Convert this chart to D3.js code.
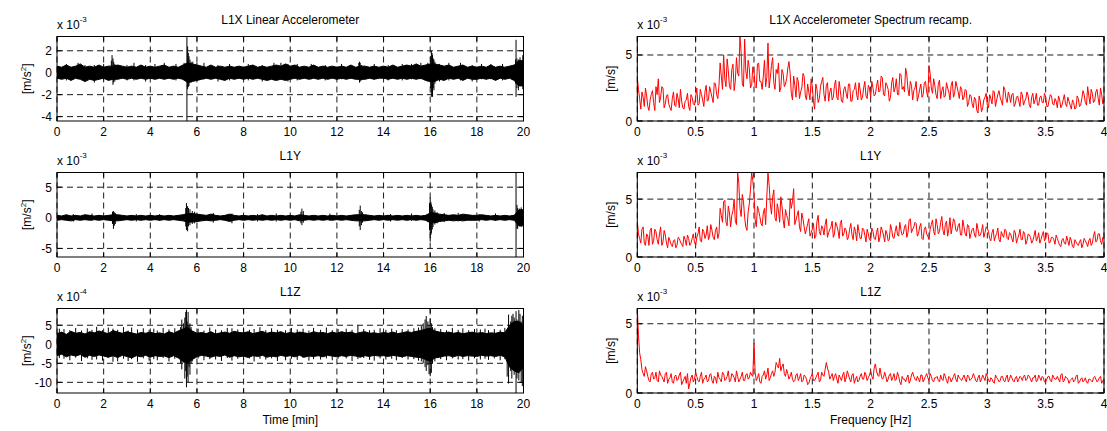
<!DOCTYPE html>
<html>
<head>
<meta charset="utf-8">
<script src="https://d3js.org/d3.v7.min.js"></script>
<style>
  body { margin: 0; background: #fff; }
  svg { font-family: "Liberation Sans", Arial, sans-serif; font-size: 12px; }
</style>
</head>
<body>
<script>
// ---- time series, min/max envelope every 0.2 min (t = 0 .. 20) ----
var timeStep = 0.2;
// L1X, units 1e-3 m/s^2
var xUpper = [0.6,0.5,0.7,0.5,0.6,0.8,0.5,0.6,0.5,0.7, 0.5,0.6,0.6,0.7,0.6,0.5,0.6,0.5,0.7,0.5,
  0.6,0.5,0.6,0.7,0.5,0.6,0.5,0.7,0.9,0.8, 0.7,0.6,0.5,0.7,0.5,0.6,0.5,0.6,0.5,0.6,
  0.5,0.6,0.7,0.5,0.6,0.5,0.6,0.7,0.6,0.8, 0.6,0.7,0.5,0.6,0.5,0.7,0.5,0.6,0.5,0.6,
  0.5,0.6,0.5,0.7,0.5,0.6,0.6,0.5,0.6,0.5, 0.6,0.5,0.7,0.5,0.6,0.7,0.6,0.8,0.6,0.7,
  0.8,0.8,0.7,0.6,0.7,0.5,0.6,0.7,0.5,0.6, 0.5,0.6,0.5,0.7,0.5,0.6,0.5,0.6,0.7,1.1, 1.1];
var xLower = [-0.5,-0.6,-0.5,-0.7,-0.5,-0.6,-0.8,-0.6,-0.7,-0.6, -0.5,-0.7,-0.6,-0.6,-0.5,-0.6,-0.5,-0.6,-0.5,-0.6,
  -0.5,-0.6,-0.5,-0.6,-0.5,-0.6,-0.5,-0.6,-0.9,-0.8, -0.7,-0.6,-0.5,-0.6,-0.5,-0.6,-0.7,-0.5,-0.6,-0.5,
  -0.6,-0.5,-0.6,-0.5,-0.6,-0.7,-0.6,-0.7,-0.6,-0.7, -0.6,-0.5,-0.6,-0.5,-0.6,-0.5,-0.6,-0.5,-0.6,-0.5,
  -0.6,-0.5,-0.6,-0.5,-0.6,-0.6,-0.6,-0.5,-0.6,-0.5, -0.5,-0.6,-0.5,-0.6,-0.5,-0.6,-0.5,-0.6,-0.5,-0.7,
  -0.8,-0.8,-0.6,-0.7,-0.5,-0.6,-0.5,-0.7,-0.5,-0.6, -0.6,-0.5,-0.6,-0.5,-0.7,-0.5,-0.6,-0.5,-0.7,-1.2, -1.2];
// [t, min, max]
var xSpikes = [[0.4,-0.7,0.8],[0.9,-0.6,0.9],[1.2,-0.8,0.7],[1.6,-0.9,0.7],[2.0,-0.7,0.8],
  [2.33,-0.5,1.1],[2.36,-0.4,1.6],[2.4,-1.1,1.3],[2.43,-0.9,1.0],[2.48,-0.8,0.8],[3.0,-0.7,0.7],[3.3,-0.7,0.9],
  [3.8,-0.8,0.7],[4.2,-0.6,0.8],[4.6,-0.6,0.9],[5.1,-0.7,0.8],[5.45,-0.7,0.9],
  [5.57,-4.4,3.3],[5.6,-1.5,2.4],[5.63,-1.3,1.8],[5.66,-1.2,1.5],[5.7,-0.9,1.2],[5.75,-0.9,1.0],[5.82,-0.7,1.0],
  [6.0,-0.7,0.9],[6.3,-0.6,0.9],[6.9,-0.8,0.7],[7.4,-0.7,0.8],[8.2,-0.7,0.8],[8.8,-0.8,0.7],[9.3,-0.7,0.9],
  [9.6,-0.6,0.9],[9.9,-0.8,0.8],[10.3,-0.7,0.8],[10.9,-0.6,0.8],[11.5,-0.7,0.7],[12.2,-0.6,0.8],
  [12.94,-0.6,0.9],[12.97,-0.9,1.0],[13.0,-0.8,0.9],[13.05,-0.7,0.7],[13.6,-0.6,0.8],[14.2,-0.7,0.7],
  [14.8,-0.7,0.8],[15.2,-0.6,0.8],[15.6,-0.6,0.9],[15.9,-0.8,0.9],
  [16.02,-1.4,1.5],[16.05,-2.2,2.0],[16.08,-1.8,1.8],[16.1,-2.2,1.6],[16.13,-1.4,1.3],[16.16,-1.6,1.2],[16.2,-1.0,1.0],
  [16.4,-0.8,0.8],[16.8,-0.7,0.9],[17.3,-0.7,0.9],[17.8,-0.8,0.7],[18.2,-0.6,0.8],[18.6,-0.6,0.8],[19.1,-0.7,0.8],
  [19.66,-1.0,1.2],[19.68,-2.2,3.0],[19.72,-1.4,1.3],[19.78,-1.6,1.2],[19.85,-1.1,1.4],[19.9,-1.2,1.1],[19.97,-1.5,1.6]];

// L1Y, units 1e-3 m/s^2
var yUpper = [0.4,0.3,0.5,0.3,0.4,0.3,0.5,0.4,0.3,0.4, 0.3,0.4,0.5,0.5,0.4,0.3,0.4,0.3,0.4,0.3,
  0.4,0.3,0.4,0.3,0.4,0.3,0.4,0.5,0.7,0.7, 0.6,0.5,0.4,0.6,0.4,0.3,0.4,0.6,0.4,0.3,
  0.4,0.3,0.4,0.3,0.5,0.3,0.4,0.3,0.4,0.3, 0.4,0.3,0.5,0.4,0.3,0.4,0.3,0.4,0.3,0.4,
  0.3,0.4,0.3,0.4,0.5,0.5,0.5,0.4,0.3,0.4, 0.3,0.4,0.3,0.4,0.3,0.4,0.3,0.4,0.3,0.4,
  0.8,0.8,0.6,0.5,0.4,0.5,0.4,0.6,0.5,0.4, 0.4,0.5,0.4,0.3,0.4,0.3,0.4,0.3,0.4,1.3, 1.3];
var yLower = [-0.4,-0.3,-0.4,-0.5,-0.3,-0.4,-0.3,-0.4,-0.3,-0.4, -0.3,-0.4,-0.5,-0.5,-0.4,-0.3,-0.4,-0.3,-0.4,-0.3,
  -0.4,-0.3,-0.4,-0.3,-0.4,-0.3,-0.4,-0.5,-0.7,-0.7, -0.6,-0.5,-0.4,-0.5,-0.4,-0.3,-0.4,-0.6,-0.4,-0.3,
  -0.4,-0.3,-0.4,-0.3,-0.4,-0.3,-0.4,-0.3,-0.4,-0.3, -0.4,-0.3,-0.5,-0.4,-0.3,-0.4,-0.3,-0.4,-0.3,-0.4,
  -0.3,-0.4,-0.3,-0.4,-0.5,-0.5,-0.5,-0.4,-0.3,-0.4, -0.3,-0.4,-0.3,-0.4,-0.3,-0.4,-0.3,-0.4,-0.3,-0.4,
  -0.8,-0.8,-0.6,-0.5,-0.4,-0.5,-0.4,-0.5,-0.4,-0.4, -0.4,-0.3,-0.4,-0.3,-0.4,-0.3,-0.4,-0.3,-0.4,-1.3, -1.3];
var ySpikes = [[0.7,-0.6,0.6],[1.5,-0.5,0.7],[2.38,-1.0,1.0],[2.42,-1.8,1.1],[2.46,-1.3,0.9],[2.5,-1.0,0.8],
  [3.4,-0.6,0.6],[4.4,-0.5,0.6],[5.52,-1.4,1.6],[5.55,-2.0,2.4],[5.6,-2.2,1.9],[5.64,-1.4,1.6],[5.7,-1.2,1.4],
  [5.8,-1.0,1.1],[5.9,-0.9,1.0],[6.7,-0.8,0.8],[7.5,-0.9,0.7],[8.6,-0.6,0.6],[9.4,-0.6,0.7],
  [10.46,-0.9,1.0],[10.5,-1.2,1.5],[10.56,-0.8,1.1],[11.7,-0.5,0.7],[12.96,-1.4,1.3],[13.0,-2.0,2.0],
  [13.05,-1.2,1.1],[13.1,-0.8,0.9],[14.3,-0.6,0.6],[15.2,-0.5,0.7],
  [15.97,-2.0,2.4],[16.0,-3.9,3.3],[16.03,-2.8,2.6],[16.05,-2.5,2.2],[16.09,-1.9,1.8],[16.12,-1.5,1.4],
  [16.2,-1.1,1.2],[16.3,-0.9,0.9],[16.6,-0.7,0.8],[17.2,-0.6,0.8],[18.1,-0.6,0.6],[18.8,-0.5,0.7],
  [19.68,-6.4,7.4],[19.72,-1.8,2.1],[19.75,-1.8,1.6],[19.82,-1.4,1.5],[19.9,-1.5,1.7],[19.98,-1.2,1.4]];

// L1Z, units 1e-4 m/s^2
var zUpper = [2.8,3.2,2.6,3.4,2.9,3.1,2.7,3.3,3.0,3.5, 3.1,2.8,3.6,3.2,2.9,3.3,3.0,2.7,3.1,2.9,
  3.2,2.8,3.0,2.7,3.3,2.9,3.5,4.0,4.5,3.5, 2.9,3.1,2.8,3.3,2.7,3.0,3.2,2.9,3.4,3.1,
  3.0,3.3,2.8,3.1,3.4,2.9,3.2,3.0,3.3,2.8, 3.1,2.9,3.2,3.0,2.8,3.3,3.0,3.1,2.8,3.2,
  2.9,3.3,3.0,3.2,2.8,3.1,3.3,2.9,3.0,2.8, 3.1,2.9,3.2,2.8,3.0,3.3,3.1,3.4,3.6,4.0,
  4.2,3.5,3.2,3.0,3.2,2.9,3.1,2.8,3.0,3.2, 2.9,3.1,2.8,3.0,2.9,3.2,3.0,5.0,6.0,6.0, 5.0];
var zLower = [-3.0,-2.6,-3.3,-2.8,-3.1,-2.7,-3.4,-2.9,-3.2,-2.8, -3.1,-3.4,-3.0,-3.5,-2.9,-3.2,-3.6,-3.0,-3.3,-2.9,
  -3.4,-3.0,-3.2,-3.1,-3.5,-3.0,-3.6,-4.5,-5.0,-4.0, -3.3,-2.9,-3.1,-3.4,-3.0,-3.2,-2.8,-3.4,-3.0,-3.3,
  -3.1,-3.5,-3.0,-3.2,-2.9,-3.4,-3.1,-3.3,-2.9,-3.2, -3.0,-3.3,-2.9,-3.4,-3.1,-3.2,-3.0,-3.3,-2.9,-3.1,
  -3.3,-3.0,-3.2,-2.9,-3.1,-3.4,-3.0,-3.2,-2.9,-3.1, -3.0,-3.2,-2.9,-3.1,-3.3,-3.0,-3.2,-3.4,-3.5,-4.0,
  -4.5,-3.6,-3.4,-3.1,-3.0,-3.3,-2.9,-3.2,-3.0,-3.1, -3.2,-2.9,-3.1,-3.0,-3.2,-2.9,-3.3,-6.0,-7.0,-7.5, -6.0];
var zSpikes = [[0.1,-3.6,4.1],[0.3,-3.8,4.0],[0.55,-4.2,3.7],[0.8,-3.5,4.3],[1.05,-4.4,3.6],[1.3,-3.7,4.2],
  [1.5,-4.1,3.8],[1.7,-4.0,4.6],[1.95,-4.3,3.7],[2.2,-3.6,4.4],[2.4,-4.6,4.1],[2.6,-4.5,3.8],[2.85,-3.8,4.5],
  [3.05,-4.4,3.6],[3.2,-3.9,4.4],[3.45,-4.6,3.9],[3.7,-3.7,4.2],[3.95,-4.3,3.8],[4.15,-3.9,4.1],[4.3,-4.2,3.6],
  [4.55,-3.6,4.3],[4.8,-4.5,3.9],[5.05,-3.8,4.2],[5.3,-5.0,4.5],[5.35,-6.6,6.5],[5.42,-4.8,5.5],[5.48,-9.0,7.0],
  [5.52,-7.0,8.5],[5.55,-11.3,9.1],[5.58,-8.5,6.0],[5.62,-10.0,8.5],[5.66,-6.0,5.0],[5.7,-8.0,5.5],
  [5.75,-5.0,4.5],[5.8,-4.5,3.5],[6.05,-3.7,4.1],[6.3,-4.2,3.6],[6.55,-3.9,4.4],[6.8,-4.0,3.9],[7.05,-4.4,3.7],
  [7.3,-3.6,4.3],[7.5,-4.3,4.2],[7.75,-3.8,3.9],[8.0,-4.1,4.4],[8.25,-3.7,3.8],[8.45,-4.5,4.0],[8.7,-3.8,4.5],
  [8.95,-4.0,3.7],[9.2,-3.7,4.2],[9.45,-4.4,3.8],[9.8,-4.2,3.7],[10.05,-3.8,4.3],[10.3,-4.1,3.9],[10.55,-3.6,4.1],
  [10.8,-4.3,3.6],[11.0,-3.9,4.3],[11.3,-4.0,3.8],[11.55,-3.7,4.4],[11.8,-4.2,3.7],[12.05,-3.8,4.0],[12.4,-3.7,4.1],
  [12.65,-4.4,3.8],[12.9,-3.9,5.0],[13.15,-3.6,4.0],[13.4,-4.1,3.7],[13.6,-4.3,3.8],[13.85,-3.7,4.2],[14.1,-4.0,3.8],
  [14.35,-3.8,4.1],[14.55,-4.2,3.7],[14.8,-3.6,4.0],[15.05,-4.0,3.9],[15.3,-3.9,4.2],[15.5,-4.3,4.4],
  [15.62,-4.5,4.8],[15.7,-5.0,5.5],[15.78,-6.0,6.5],[15.83,-7.0,7.4],[15.9,-5.5,6.0],[15.95,-7.8,5.0],
  [16.0,-8.4,6.8],[16.05,-7.5,5.5],[16.1,-5.0,4.5],[16.2,-4.5,4.2],[16.45,-3.9,4.0],[16.7,-4.2,3.7],
  [16.95,-3.7,4.3],[17.2,-4.0,3.8],[17.4,-3.9,4.2],[17.65,-4.3,3.7],[17.9,-3.7,4.0],[18.15,-4.0,3.9],
  [18.35,-3.8,4.1],[18.5,-4.1,3.7],[18.75,-3.7,4.0],[19.0,-4.2,3.8],[19.2,-3.9,4.3],
  [19.3,-8.5,4.0],[19.36,-10.3,7.8],[19.45,-7.0,6.0],[19.5,-9.0,7.5],[19.55,-6.5,8.0],[19.6,-8.0,7.0],
  [19.68,-12.8,8.7],[19.72,-9.0,6.5],[19.8,-9.5,9.0],[19.85,-7.0,8.0],[19.9,-10.0,6.0],[19.95,-11.0,7.5]];

// ---- spectra, units 1e-3 m/s ----
// "a" arrays: f = 0, 0.02, ... 4.00 ; "b" arrays: f = 0.01, 0.03, ... 3.99
var freqStep = 0.02;
var specXa = [3.3,1.7,2.2,1.1,1.9,0.8,2.0,1.4,2.6,3.2, 1.8,2.5,1.3,2.0,1.0,1.7,1.2,2.1,1.0,1.5,
  0.9,1.6,1.1,2.0,1.3,1.8,1.2,2.4,1.6,2.2, 1.5,2.6,1.8,2.9,2.0,2.7,3.4,5.0,2.6,3.8,
  2.4,4.3,3.0,3.6,6.4,2.8,6.2,3.2,4.0,2.7, 3.8,2.5,4.4,3.0,3.4,2.6,5.9,3.3,4.8,2.4,
  3.6,2.2,3.9,2.6,3.2,4.5,2.1,3.4,1.8,3.0, 2.2,3.6,1.9,2.8,1.6,2.6,0.9,2.4,1.7,3.0,
  2.0,2.7,1.5,2.5,1.8,3.1,1.6,2.3,1.4,2.6, 1.7,2.8,1.5,2.4,2.0,2.9,1.6,2.5,1.9,2.7,
  1.8,2.5,2.0,3.1,2.3,3.3,1.9,2.7,1.5,2.9, 2.2,3.2,2.0,3.5,2.6,4.0,2.4,3.0,1.6,2.5,
  1.5,2.4,1.8,2.9,2.2,4.2,2.5,3.2,2.0,2.8, 1.7,2.6,1.9,2.5,1.6,3.0,2.1,2.6,1.7,2.4,
  1.8,2.3,1.4,1.9,1.0,1.6,0.6,1.5,1.0,1.8, 1.2,2.0,1.3,2.2,1.6,2.3,1.5,2.6,1.7,2.2,
  1.4,2.1,1.3,1.9,1.1,2.0,1.5,2.2,1.2,1.8, 1.3,2.1,1.2,1.9,1.4,1.8,1.1,2.0,1.3,1.7,
  1.0,1.6,1.2,2.0,1.1,1.5,0.9,1.4,1.0,1.7, 1.2,2.3,1.4,2.6,1.3,2.1,1.5,2.4,1.2,2.0, 1.6];
var specXb = [2.4,0.9,1.8,2.5,1.1,1.6,2.3,0.8,2.0,1.4, 2.6,1.0,1.9,1.3,0.8,2.2,1.1,1.7,2.4,1.0, 1.5,2.1,0.8,1.8,1.2,
  2.5,1.3,2.0,1.1,2.7, 1.6,2.2,1.4,2.8,1.7,
  4.4,2.4,3.2,4.7,2.6, 3.9,2.3,4.8,3.4,5.2, 2.6,3.8,4.6,2.5,4.1,
  2.6,4.3,3.0,2.4,4.6, 3.3,2.5,4.2,2.9,3.9, 4.4,2.5,3.6,2.8,4.0,
  3.6,1.6,2.7,3.3,1.7, 2.5,3.4,1.6,2.2,3.2, 1.5,2.8,1.4,2.6,3.3,
  1.5,2.9,2.2,1.6,2.7, 1.8,3.0,1.5,2.4,2.1, 2.8,1.5,2.3,2.9,1.6, 2.4,1.8,3.0,1.7,2.5,
  3.0,1.9,2.6,2.2,3.4, 2.0,2.9,2.4,1.8,3.3, 2.5,2.0,3.6,2.4,2.2, 3.5,1.9,2.7,2.3,3.0,
  1.9,2.8,2.0,3.0,1.8, 3.6,2.1,2.7,1.7,3.1, 2.3,1.8,2.9,2.2,2.7, 1.8,3.0,2.2,2.6,1.6,
  2.4,1.1,2.0,1.3,1.8, 0.8,1.9,0.7,1.6,2.1, 1.0,1.7,2.3,1.1,2.0, 1.8,1.2,2.4,1.4,1.9,
  2.0,1.1,1.8,1.5,2.2, 1.2,1.7,1.9,1.0,2.1, 1.6,1.2,1.8,1.4,2.1, 1.1,1.6,1.9,1.2,1.5,
  1.9,1.0,1.6,1.3,1.8, 1.2,1.6,0.9,1.9,1.1, 1.7,2.0,1.2,1.9,2.4, 1.4,2.2,1.7,2.5,1.3];
var specYa = [3.1,1.6,2.4,1.2,2.0,1.0,2.5,1.4,2.2,1.1, 2.6,1.3,1.9,0.8,1.4,0.9,1.5,1.0,1.6,1.1,
  1.8,1.0,1.6,1.2,2.0,1.0,2.0,1.4,2.4,1.6, 2.7,1.8,2.3,1.5,2.6,2.0,3.6,4.8,3.0,4.4,
  2.6,4.0,3.1,7.3,4.2,5.4,3.4,2.3,4.6,7.3, 5.6,2.6,4.0,2.9,3.8,2.8,7.3,4.6,5.2,3.4,
  4.6,3.0,4.4,2.5,3.6,2.7,4.2,5.9,3.2,4.0, 2.2,3.3,2.0,2.9,1.8,2.4,1.6,3.1,2.2,2.7,
  1.9,3.3,2.1,2.6,1.7,3.0,2.3,2.9,1.8,2.5, 1.5,2.4,1.9,2.6,1.4,2.2,1.6,2.4,1.3,2.0,
  1.4,2.2,1.5,2.5,1.7,2.3,1.3,2.0,1.5,2.4, 1.6,2.7,1.8,2.3,2.0,2.8,2.1,3.3,2.4,3.0,
  1.8,2.6,1.6,2.4,2.0,1.5,2.8,2.2,3.3,2.0, 3.0,2.3,2.8,1.8,3.4,2.6,3.1,2.2,2.9,1.9,
  2.6,1.8,2.7,2.0,2.5,1.7,2.4,1.9,2.8,2.1, 2.5,1.6,2.1,1.4,2.0,1.5,2.2,1.7,2.3,1.5,
  2.0,1.3,2.1,1.6,2.4,1.5,2.0,1.4,1.9,1.2, 1.8,1.4,2.1,1.5,2.2,1.6,2.0,1.3,1.7,1.1,
  1.6,1.0,1.5,1.2,1.8,1.0,1.4,0.8,1.3,1.0, 1.5,1.1,1.4,0.9,1.6,1.2,2.2,1.4,2.0,1.1, 1.6];
var specYb = [2.0,1.2,2.6,1.0,1.8, 2.3,1.1,2.4,1.5,2.0, 1.0,2.3,1.2,1.7,1.1, 1.4,0.8,1.7,1.3,0.9, 1.5,1.9,1.0,1.6,1.3,
  1.7,2.6,1.3,2.2,1.9, 1.5,2.8,1.7,2.3,1.6,
  4.2,3.0,4.9,2.7,3.8, 3.6,5.0,2.8,6.4,3.5, 4.8,2.6,3.9,5.8,6.6,
  3.2,4.4,3.5,2.7,4.2, 5.2,6.2,3.7,5.8,3.1, 4.0,5.2,3.2,4.1,3.3,
  5.0,4.8,2.8,3.6,2.6, 3.8,2.6,2.4,3.3,2.1, 2.9,1.8,3.6,1.9,2.5,
  2.8,1.7,2.4,3.1,2.0, 2.7,1.6,3.2,2.0,2.3, 1.7,2.9,1.5,2.2,2.8, 1.6,2.5,1.9,2.4,1.5,
  2.5,1.6,2.1,1.3,2.6, 1.9,2.3,1.4,2.8,1.7, 2.2,1.9,3.0,1.9,2.6, 1.7,3.2,2.1,2.6,2.9,
  2.0,2.9,1.5,2.6,1.8, 2.4,3.2,1.9,2.8,2.2, 3.5,1.9,3.1,2.4,2.0, 3.3,2.3,2.7,1.9,3.2,
  2.0,2.8,1.6,2.4,1.9, 2.9,1.8,2.2,1.7,2.6, 2.2,1.4,2.4,1.8,2.5, 1.3,1.9,2.4,1.6,2.1,
  1.6,2.3,1.2,1.9,1.5, 2.2,1.1,2.0,1.7,1.4, 2.3,1.6,1.2,1.9,1.4, 2.1,1.2,1.7,1.5,1.9,
  1.3,0.9,1.6,1.1,1.4, 1.7,0.9,1.5,1.1,1.3, 0.8,1.6,1.2,1.4,1.0, 1.8,1.3,2.0,1.4,1.7];
var specZa = [6.1,2.9,1.7,1.2,1.6,0.9,1.4,1.0,1.5,0.8, 1.3,1.0,1.4,0.7,1.1,0.8,1.2,0.9,1.3,0.6,
  1.0,0.7,0.3,1.1,0.8,1.5,0.9,1.2,0.7,1.1, 0.8,1.3,0.9,1.2,0.7,1.1,0.8,1.4,1.0,1.6,
  0.9,1.3,0.8,1.2,1.0,1.5,0.9,1.4,1.1,1.3, 3.6,0.9,1.4,0.7,1.3,1.0,1.8,1.1,1.6,1.5,
  2.0,2.5,1.9,1.4,1.7,1.0,1.5,0.8,1.3,0.9, 1.4,0.9,1.2,0.6,1.0,1.4,0.9,1.3,0.8,1.5,
  1.2,2.2,1.5,1.2,0.9,1.4,0.7,1.1,1.3,0.8, 1.6,1.0,1.3,0.7,1.2,0.9,1.4,1.0,1.3,1.1,
  1.6,1.0,2.1,1.3,1.8,1.0,1.5,0.8,1.3,0.9, 1.4,1.0,1.2,0.6,1.0,0.8,1.3,0.9,1.5,1.0,
  1.2,0.8,1.3,1.0,1.4,0.9,1.2,0.8,1.1,0.9, 1.3,0.9,1.2,0.7,1.1,1.0,1.4,0.8,1.1,0.9,
  1.3,0.8,1.2,1.0,1.4,0.9,1.1,0.8,1.3,0.9, 1.2,0.8,1.0,0.7,1.1,0.8,1.2,0.9,1.1,0.8,
  1.3,0.9,1.1,0.8,1.2,0.9,1.3,1.0,1.2,0.8, 1.1,0.8,1.3,0.9,1.1,0.8,1.2,0.9,1.3,1.0,
  1.2,0.8,1.4,0.9,1.1,0.7,1.0,0.8,1.2,0.7, 1.0,0.8,1.1,0.7,1.0,0.8,1.2,0.8,1.1,0.7, 1.0];
var specZb = [4.2,2.4,1.4,1.9,1.2, 0.8,1.5,1.1,0.9,1.6, 1.2,0.8,1.5,1.0,1.4, 0.7,1.3,1.0,1.5,0.8, 1.2,1.4,0.7,1.3,1.0,
  1.2,0.8,1.5,1.0,1.3, 0.9,1.4,0.7,1.1,1.5,
  1.0,1.5,0.9,1.2,0.8, 1.4,1.1,1.6,0.8,1.2, 0.9,1.3,1.0,1.5,1.2,
  1.5,1.1,0.8,1.2,1.6, 1.3,0.9,1.4,1.2,2.2, 1.8,1.6,2.1,1.2,1.4,
  1.2,1.0,0.9,1.4,1.1, 0.8,1.3,1.0,0.7,1.2, 0.9,1.1,1.5,0.9,1.3,
  1.7,1.8,1.0,1.4,1.2, 1.0,1.3,0.9,1.5,1.1, 1.3,0.8,1.4,1.0,0.8, 1.2,1.0,1.5,0.9,1.3,
  1.2,1.8,1.6,1.2,1.3, 1.1,1.2,1.0,1.4,1.1, 0.9,1.5,0.8,1.2,1.0, 1.1,0.7,1.3,1.2,0.9,
  1.0,1.3,0.8,1.2,1.1, 1.4,0.9,1.1,1.2,0.8, 1.0,1.4,0.9,1.2,0.8, 1.2,1.0,1.3,1.0,1.1,
  1.0,1.3,0.9,1.1,1.2, 0.8,1.3,1.0,1.1,1.4, 0.9,1.1,0.8,1.3,1.0, 0.9,1.2,0.8,1.3,1.0,
  1.1,0.8,1.2,1.0,1.1, 1.2,0.9,1.3,1.0,1.1, 1.3,0.9,1.1,1.2,0.8, 1.0,1.2,0.8,1.1,1.0,
  1.0,1.3,0.8,1.2,1.0, 0.9,1.1,0.9,1.3,0.8, 1.1,0.9,0.8,1.0,0.9, 1.1,1.0,0.9,1.2,0.9];

// ---- axes text ----
var rowTitles = [["L1X Linear Accelerometer", "L1X Accelerometer Spectrum recamp."], ["L1Y", "L1Y"], ["L1Z", "L1Z"]];
var timeTicks = [0,2,4,6,8,10,12,14,16,18,20];
var freqTicks = [0,0.5,1,1.5,2,2.5,3,3.5,4];

var W = 1107, Hh = 431;
var svg = d3.select("body").append("svg").attr("width", W).attr("height", Hh);

var tops = [36.5, 172.5, 308.5], ph = 84.5;
var cols = [[57, 523.5], [637.3, 1104]];
var tickLen = 4.7;

// merge the two half-step sample sets of a spectrum in frequency order
function spectrum(a, b) {
  var out = [];
  a.forEach(function (v, i) {
    out.push([i * freqStep, v]);
    if (i < b.length) out.push([(i + 0.5) * freqStep, b[i]]);
  });
  return out;
}

var panels = [
  {row: 0, col: 0, kind: "time", up: xUpper, lo: xLower, spikes: xSpikes, dom: [-4.4, 3.3], yt: [-4,-2,0,2], exp: "-3"},
  {row: 1, col: 0, kind: "time", up: yUpper, lo: yLower, spikes: ySpikes, dom: [-6.4, 7.4], yt: [-5,0,5], exp: "-3"},
  {row: 2, col: 0, kind: "time", up: zUpper, lo: zLower, spikes: zSpikes, dom: [-12.8, 9.4], yt: [-10,-5,0,5], exp: "-4"},
  {row: 0, col: 1, kind: "spec", vals: spectrum(specXa, specXb), dom: [0, 6.4], yt: [0,5], exp: "-3"},
  {row: 1, col: 1, kind: "spec", vals: spectrum(specYa, specYb), dom: [0, 7.3], yt: [0,5], exp: "-3"},
  {row: 2, col: 1, kind: "spec", vals: spectrum(specZa, specZb), dom: [0, 6.1], yt: [0,5], exp: "-3"}
];

panels.forEach(function (p, k) {
  var x0 = cols[p.col][0], x1 = cols[p.col][1];
  var top = tops[p.row], bot = top + ph;
  var x = d3.scaleLinear().domain(p.kind == "time" ? [0, 20] : [0, 4]).range([x0, x1]);
  var y = d3.scaleLinear().domain(p.dom).range([bot, top]);
  var xt = p.kind == "time" ? timeTicks : freqTicks;
  var g = svg.append("g");

  g.append("clipPath").attr("id", "clip" + k).append("rect")
    .attr("x", x0).attr("y", top).attr("width", x1 - x0).attr("height", ph);

  // grid
  g.selectAll(".gx").data(xt).enter().append("line")
    .attr("x1", d => x(d)).attr("x2", d => x(d)).attr("y1", top).attr("y2", bot)
    .attr("stroke", "#000").attr("stroke-width", 0.9).attr("stroke-dasharray", "6,4");
  g.selectAll(".gy").data(p.yt).enter().append("line")
    .attr("y1", d => y(d)).attr("y2", d => y(d)).attr("x1", x0).attr("x2", x1)
    .attr("stroke", "#000").attr("stroke-width", 0.9).attr("stroke-dasharray", "6,4");

  // ticks, inward on all four sides
  xt.forEach(function (d) {
    g.append("line").attr("x1", x(d)).attr("x2", x(d)).attr("y1", bot).attr("y2", bot - tickLen).attr("stroke", "#000");
    g.append("line").attr("x1", x(d)).attr("x2", x(d)).attr("y1", top).attr("y2", top + tickLen).attr("stroke", "#000");
  });
  p.yt.forEach(function (d) {
    g.append("line").attr("y1", y(d)).attr("y2", y(d)).attr("x1", x0).attr("x2", x0 + tickLen).attr("stroke", "#000");
    g.append("line").attr("y1", y(d)).attr("y2", y(d)).attr("x1", x1).attr("x2", x1 - tickLen).attr("stroke", "#000");
  });

  var plot = g.append("g").attr("clip-path", "url(#clip" + k + ")");
  if (p.kind == "time") {
    var area = d3.area()
      .x((d, i) => x(i * timeStep))
      .y0((d, i) => y(p.lo[i]))
      .y1(d => y(d));
    plot.append("path").datum(p.up).attr("d", area)
      .attr("fill", "#000").attr("stroke", "#000").attr("stroke-width", 1);
    plot.selectAll(".sp").data(p.spikes).enter().append("line")
      .attr("x1", d => x(d[0])).attr("x2", d => x(d[0]))
      .attr("y1", d => y(d[1])).attr("y2", d => y(d[2]))
      .attr("stroke", "#000").attr("stroke-width", 1);
  } else {
    var line = d3.line().x(d => x(d[0])).y(d => y(d[1]));
    plot.append("path").datum(p.vals).attr("d", line)
      .attr("fill", "none").attr("stroke", "#ff0000").attr("stroke-width", 1);
  }

  // box
  g.append("rect").attr("x", x0).attr("y", top).attr("width", x1 - x0).attr("height", ph)
    .attr("fill", "none").attr("stroke", "#000").attr("stroke-width", 1);

  // tick labels
  g.selectAll(".xl").data(xt).enter().append("text")
    .attr("x", d => x(d)).attr("y", bot + 15).attr("text-anchor", "middle")
    .text(d => d);
  g.selectAll(".yl").data(p.yt).enter().append("text")
    .attr("x", x0 - 5).attr("y", d => y(d) + 4.5).attr("text-anchor", "end")
    .text(d => d);

  // exponent
  var ex = g.append("text").attr("x", x0).attr("y", top - 8);
  ex.append("tspan").text("x 10");
  ex.append("tspan").attr("dy", -7).attr("font-size", "8px").text(p.exp);

  // title
  g.append("text").attr("x", (x0 + x1) / 2).attr("y", top - 13).attr("text-anchor", "middle")
    .text(rowTitles[p.row][p.col]);

  // y label
  var cy = (top + bot) / 2;
  var yl = g.append("text").attr("text-anchor", "middle")
    .attr("transform", "translate(" + (p.col == 0 ? 31 : 615) + "," + cy + ") rotate(-90)");
  if (p.kind == "time") {
    yl.append("tspan").text("[m/s");
    yl.append("tspan").attr("dy", -5).attr("font-size", "8px").text("2");
    yl.append("tspan").attr("dy", 5).text("]");
  } else {
    yl.text("[m/s]");
  }
});

svg.append("text").attr("x", (cols[0][0] + cols[0][1]) / 2).attr("y", tops[2] + ph + 31)
  .attr("text-anchor", "middle").text("Time [min]");
svg.append("text").attr("x", (cols[1][0] + cols[1][1]) / 2).attr("y", tops[2] + ph + 31)
  .attr("text-anchor", "middle").text("Frequency [Hz]");
</script>
</body>
</html>
